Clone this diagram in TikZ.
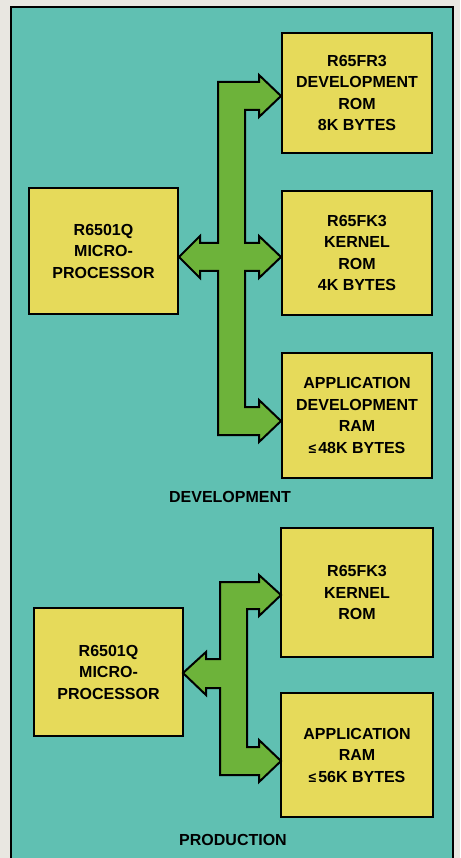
\documentclass[tikz,border=0pt]{standalone}
\usepackage{fontspec}
\setmainfont{Liberation Sans}
\definecolor{paper}{HTML}{E9E7E1}
\definecolor{teal}{HTML}{60C0B2}
\definecolor{boxy}{HTML}{E6DA5A}
\definecolor{busg}{HTML}{6DB33A}
\tikzset{
  blk/.style={draw=black, line width=1.8pt, fill=boxy, align=center,
    font=\bfseries\fontsize{16}{21.5}\selectfont, inner sep=0pt},
  bus/.style={draw=black, line width=2pt, fill=busg, line join=miter},
  lbl/.style={font=\bfseries\fontsize{16}{20}\selectfont, inner sep=0pt}
}
\newcommand{\leqsym}{{\fontsize{14}{14}\selectfont ≤}\hspace{2pt}}
\begin{document}
\begin{tikzpicture}[x=1pt,y=-1pt]
\useasboundingbox (0,0) rectangle (460,858);
\fill[paper] (0,0) rectangle (460,858);
\begin{scope}
\clip (0,0) rectangle (460,858);
\draw[fill=teal, line width=1.8pt] (11,7) rectangle (453,875);
\end{scope}

% Development
\node[blk, minimum width=150pt, minimum height=120pt] (fr3) at (357,93) {R65FR3\\DEVELOPMENT\\ROM\\8K BYTES};
\node[blk, minimum width=150pt, minimum height=124pt] (fk3) at (357,253) {R65FK3\\KERNEL\\ROM\\4K BYTES};
\node[blk, minimum width=150pt, minimum height=125pt] (dram) at (357,415.5) {APPLICATION\\DEVELOPMENT\\RAM\\\leqsym 48K BYTES};
\node[blk, minimum width=149pt, minimum height=126pt] (dcpu) at (103.5,251) {R6501Q\\MICRO-\\PROCESSOR};
\node[lbl] (dlab) at (230,497) {DEVELOPMENT};

\draw[bus] (218,82) -- (259,82) -- (259,75) -- (281,96) -- (259,117) -- (259,110)
  -- (245,110) -- (245,243) -- (259,243) -- (259,236) -- (281,257) -- (259,278) -- (259,271)
  -- (245,271) -- (245,407) -- (259,407) -- (259,400) -- (281,421) -- (259,442) -- (259,435)
  -- (218,435) -- (218,271) -- (200,271) -- (200,278) -- (179,257) -- (200,236) -- (200,243)
  -- (218,243) -- cycle;

% Production
\node[blk, minimum width=152pt, minimum height=129pt] (pk3) at (357,592.5) {R65FK3\\KERNEL\\ROM};
\node[blk, minimum width=152pt, minimum height=124pt] (pram) at (357,755) {APPLICATION\\RAM\\\leqsym 56K BYTES};
\node[blk, minimum width=149pt, minimum height=128pt] (pcpu) at (108.5,672) {R6501Q\\MICRO-\\PROCESSOR};
\node[lbl] (plab) at (233,840) {PRODUCTION};

\draw[bus] (220,582) -- (259,582) -- (259,575) -- (281,595) -- (259,616) -- (259,609)
  -- (247,609) -- (247,747) -- (259,747) -- (259,740) -- (281,761) -- (259,782) -- (259,775)
  -- (220,775) -- (220,688) -- (206,688) -- (206,695) -- (183,673) -- (206,652) -- (206,659)
  -- (220,659) -- cycle;
\end{tikzpicture}
\end{document}
